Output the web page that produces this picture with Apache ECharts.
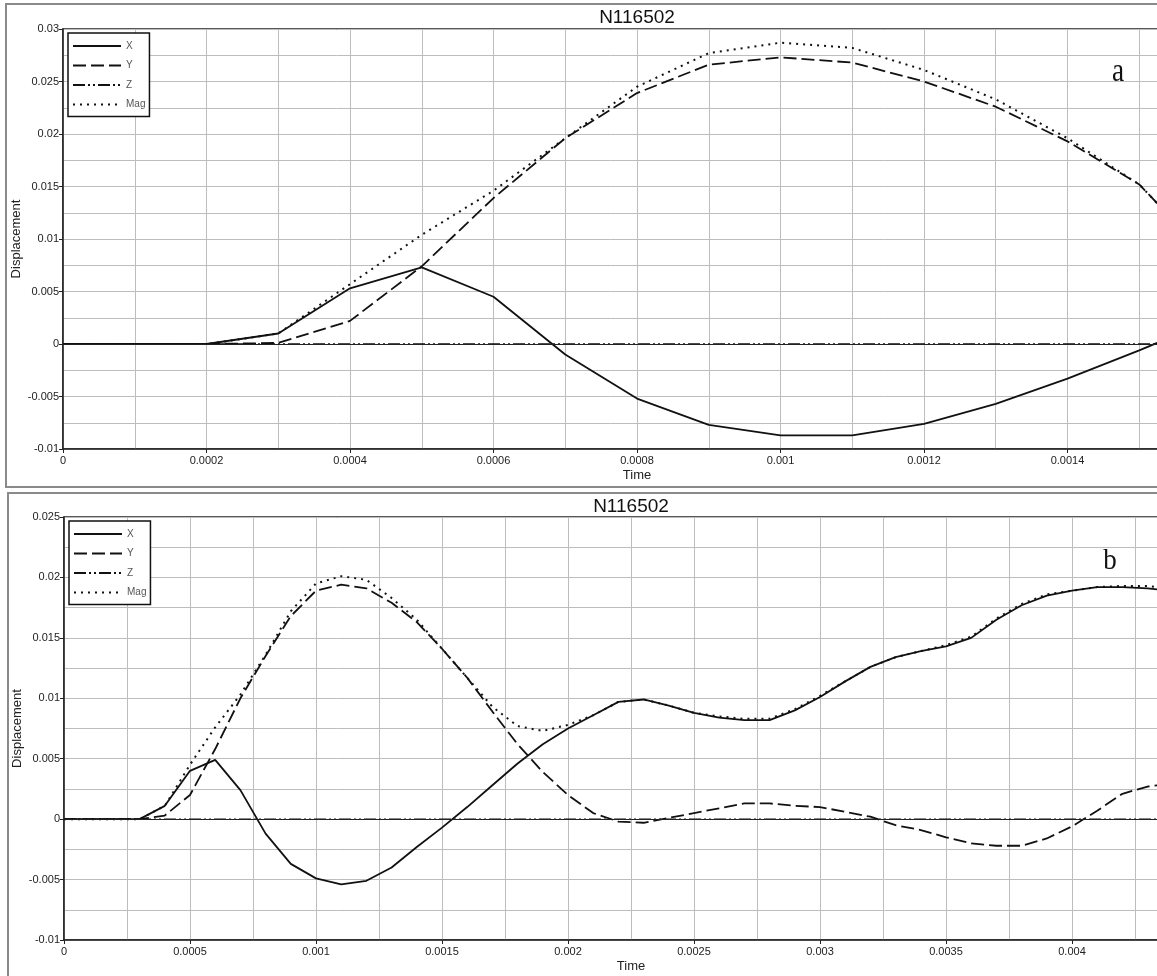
<!DOCTYPE html>
<html lang="en">
<head>
    <meta charset="UTF-8">
    <title>N116502</title>
    <script src="https://cdn.jsdelivr.net/npm/echarts@6/dist/echarts.min.js"></script>
    <style>
        body { margin: 0; background: #fff; }
        #main { position: absolute; left: 0; top: 0; width: 1157px; height: 490px; }
        #main2 { position: absolute; left: 0; top: 490px; width: 1157px; height: 486px; }
    </style>
</head>
<body>
<div id="main"></div>
<div id="main2"></div>
<script type="text/javascript">
    // panel a
    const timeA = [0, 0.0001, 0.0002, 0.0003, 0.0004, 0.0005, 0.0006, 0.0007, 0.0008, 0.0009, 0.001, 0.0011, 0.0012, 0.0013, 0.0014, 0.0015, 0.001525];
    const xA = [0, 0, 0, 0.001, 0.0053, 0.0073, 0.0045, -0.001, -0.0052, -0.0077, -0.0087, -0.0087, -0.0076, -0.0057, -0.0033, -0.0006, 0.0001];
    const yA = [0, 0, 0, 0.0001, 0.0022, 0.0074, 0.0139, 0.0196, 0.0239, 0.0266, 0.0273, 0.0268, 0.025, 0.0226, 0.0193, 0.0152, 0.0134];
    const zA = [0, 0, 0, 0, 0, 0, 0, 0, 0, 0, 0, 0, 0, 0, 0, 0, 0];
    const magA = [0, 0, 0, 0.001, 0.0057, 0.0104, 0.0146, 0.0196, 0.0245, 0.0277, 0.0287, 0.0282, 0.0261, 0.0233, 0.0196, 0.0152, 0.0134];

    // panel b
    const timeB = [0, 0.0001, 0.0002, 0.0003, 0.0004, 0.0005, 0.0006, 0.0007, 0.0008, 0.0009, 0.001, 0.0011, 0.0012, 0.0013, 0.0014, 0.0015, 0.0016, 0.0017, 0.0018, 0.0019, 0.002, 0.0021, 0.0022, 0.0023, 0.0024, 0.0025, 0.0026, 0.0027, 0.0028, 0.0029, 0.003, 0.0031, 0.0032, 0.0033, 0.0034, 0.0035, 0.0036, 0.0037, 0.0038, 0.0039, 0.004, 0.0041, 0.0042, 0.0043, 0.00434];
    const xB = [0, 0, 0, 0, 0.0011, 0.004, 0.0049, 0.0024, -0.0012, -0.0037, -0.0049, -0.0054, -0.0051, -0.004, -0.0023, -0.0007, 0.001, 0.0028, 0.0046, 0.0062, 0.0075, 0.0086, 0.0097, 0.0099, 0.0094, 0.0088, 0.0084, 0.0082, 0.0082, 0.009, 0.0101, 0.0114, 0.0126, 0.0134, 0.0139, 0.0143, 0.015, 0.0165, 0.0177, 0.0185, 0.0189, 0.0192, 0.0192, 0.0191, 0.019];
    const yB = [0, 0, 0, 0, 0.0003, 0.002, 0.0058, 0.01, 0.0135, 0.0168, 0.0189, 0.0194, 0.0191, 0.0179, 0.0163, 0.0141, 0.0117, 0.0089, 0.0062, 0.0039, 0.002, 0.0005, -0.0002, -0.0003, 0.0001, 0.0005, 0.0009, 0.0013, 0.0013, 0.0011, 0.001, 0.0006, 0.0002, -0.0005, -0.0009, -0.0015, -0.002, -0.0022, -0.0022, -0.0016, -0.0006, 0.0007, 0.0021, 0.0027, 0.0028];
    const zB = [0, 0, 0, 0, 0, 0, 0, 0, 0, 0, 0, 0, 0, 0, 0, 0, 0, 0, 0, 0, 0, 0, 0, 0, 0, 0, 0, 0, 0, 0, 0, 0, 0, 0, 0, 0, 0, 0, 0, 0, 0, 0, 0, 0, 0];
    const magB = [0, 0, 0, 0, 0.0011, 0.0045, 0.0076, 0.0103, 0.0136, 0.0172, 0.0195, 0.0201, 0.0198, 0.0183, 0.0165, 0.0141, 0.0117, 0.0093, 0.0077, 0.0073, 0.0078, 0.0086, 0.0097, 0.0099, 0.0094, 0.0088, 0.0085, 0.0083, 0.0083, 0.0091, 0.0102, 0.0114, 0.0126, 0.0134, 0.0139, 0.0144, 0.0151, 0.0166, 0.0178, 0.0186, 0.0189, 0.0192, 0.0193, 0.0193, 0.0192];

    const seriesNames = ['X', 'Y', 'Z', 'Mag'];
    const titleText = 'N116502';

    const font = 'Liberation Sans, Arial, sans-serif';
    const gridColor = '#bdbdbd';

    function fmt(v) {
        return String(+v.toFixed(6));
    }

    function pairs(t, v) {
        return t.map((item, i) => [item, v[i]]);
    }

    function buildPanel(dom, p) {
        let myChart = echarts.init(document.getElementById(dom));
        let styles = [
            {type: 'solid', width: 1.8},
            {type: [13, 5], width: 1.8},
            {type: [12, 3, 2, 3, 2, 3], width: 1.5},
            {type: [2, 5], width: 2}
        ];
        let values = [p.x, p.y, p.z, p.mag];
        let series = seriesNames.map((name, i) => {
            let s = {
                name: name,
                type: 'line',
                data: pairs(p.t, values[i]),
                symbol: 'none',
                lineStyle: Object.assign({color: '#111'}, styles[i]),
                itemStyle: {color: '#111'},
                z: 3
            };
            if (name === 'Z') {
                // dark zero line under the dash-dot Z curve
                s.markLine = {
                    silent: true,
                    symbol: ['none', 'none'],
                    label: {show: false},
                    lineStyle: {type: 'solid', color: '#222', width: 1.2},
                    data: [{yAxis: 0}]
                };
            }
            return s;
        });

        let option = {
            animation: false,
            textStyle: {fontFamily: font},
            grid: {
                left: p.left, right: p.right, top: p.top, bottom: p.bottom,
                outerBoundsMode: 'none',
                containLabel: false,
                show: true, borderColor: '#222', borderWidth: 1.5, backgroundColor: '#fff'
            },
            legend: {
                data: seriesNames,
                orient: 'vertical',
                left: p.left + 5,
                top: p.top + 4,
                itemWidth: 48,
                itemHeight: 12,
                itemGap: 9.5,
                padding: [8, 4, 7, 4],
                borderColor: '#111',
                borderWidth: 1.5,
                backgroundColor: '#fff',
                itemStyle: {opacity: 0},
                textStyle: {fontSize: 10, color: '#555', fontFamily: font}
            },
            xAxis: {
                type: 'value',
                min: 0,
                max: p.xMax,
                interval: p.xStep,
                name: 'Time',
                nameLocation: 'middle',
                nameGap: 20,
                nameMoveOverlap: false,
                nameTextStyle: {fontSize: 13, color: '#222'},
                axisLine: {onZero: false, lineStyle: {color: '#222', width: 1.5}},
                axisTick: {show: true, length: 4, lineStyle: {color: '#222'}},
                axisLabel: {fontSize: 11, color: '#222', margin: 6, formatter: fmt},
                splitLine: {lineStyle: {color: gridColor}},
                minorTick: {show: false, splitNumber: 2},
                minorSplitLine: {show: true, lineStyle: {color: gridColor}}
            },
            yAxis: {
                type: 'value',
                min: p.yMin,
                max: p.yMax,
                interval: 0.005,
                name: 'Displacement',
                nameLocation: 'middle',
                nameGap: 40,
                nameMoveOverlap: false,
                nameTextStyle: {fontSize: 13, color: '#222'},
                axisLine: {show: true, lineStyle: {color: '#222', width: 1.5}},
                axisTick: {show: true, length: 4, lineStyle: {color: '#222'}},
                axisLabel: {fontSize: 11, color: '#222', margin: 4, formatter: fmt},
                splitLine: {lineStyle: {color: gridColor}},
                minorTick: {show: false, splitNumber: 2},
                minorSplitLine: {show: true, lineStyle: {color: gridColor}}
            },
            graphic: [
                {
                    type: 'rect', silent: true, z: -1,
                    shape: {x: p.frameX, y: p.frameY, width: 1300, height: p.frameH},
                    style: {fill: 'none', stroke: '#8a8a8a', lineWidth: 2}
                },
                {
                    type: 'text', z: 10,
                    x: p.titleX, y: p.titleY,
                    style: {text: titleText, align: 'center', verticalAlign: 'middle', font: '19px ' + font, fill: '#111'}
                },
                {
                    type: 'text', z: 10,
                    x: p.tagX, y: p.tagY, scaleX: p.tagScale,
                    style: {text: p.tag, align: 'center', verticalAlign: 'middle', font: p.tagSize + 'px Liberation Serif, serif', fill: '#111'}
                }
            ],
            series: series
        };
        myChart.setOption(option);
        return myChart;
    }

    buildPanel('main', {
        t: timeA, x: xA, y: yA, z: zA, mag: magA,
        left: 63, right: -54, top: 29, bottom: 41,
        xMax: 0.0016, xStep: 0.0002, yMin: -0.01, yMax: 0.03,
        frameX: 6, frameY: 4, frameH: 483,
        titleX: 637, titleY: 18,
        tag: 'a', tagX: 1118, tagY: 72, tagSize: 34, tagScale: 0.8
    });

    buildPanel('main2', {
        t: timeB, x: xB, y: yB, z: zB, mag: magB,
        left: 64, right: -41, top: 27, bottom: 36,
        xMax: 0.0045, xStep: 0.0005, yMin: -0.01, yMax: 0.025,
        frameX: 8, frameY: 3, frameH: 520,
        titleX: 631, titleY: 17,
        tag: 'b', tagX: 1110, tagY: 71, tagSize: 30, tagScale: 0.9
    });
</script>
</body>
</html>
